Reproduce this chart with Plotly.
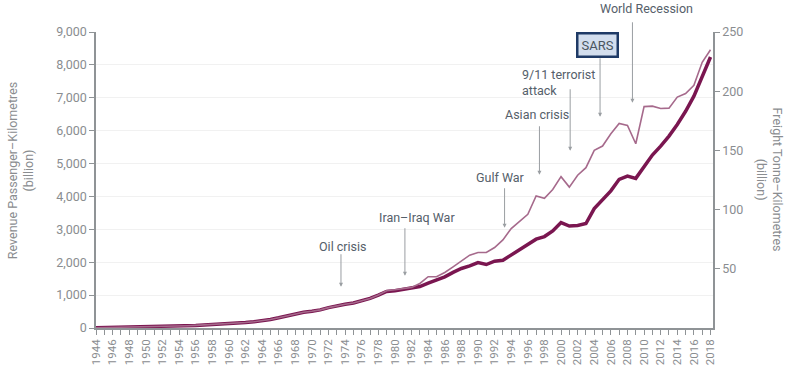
import plotly.graph_objects as go

years = list(range(1944, 2019))

rpk_billion = [
    8, 12, 18, 22, 25, 27, 30, 36, 43, 50,
    58, 67, 78, 90, 100, 115, 130, 145, 165, 190,
    220, 260, 310, 370, 430, 480, 510, 550, 620, 680,
    720, 760, 830, 900, 1000, 1110, 1130, 1170, 1200, 1260,
    1365, 1455, 1555, 1690, 1810, 1890, 1990, 1930, 2030, 2060,
    2215, 2365, 2545, 2700, 2780, 2950, 3205, 3100, 3120, 3175,
    3630, 3915, 4170, 4520, 4620, 4550, 4925, 5260, 5530, 5835,
    6190, 6590, 7050, 7655, 8240,
]

ftk_billion = [
    0.2, 0.3, 0.5, 0.6, 0.7, 0.75, 0.85, 1.0, 1.2, 1.4,
    1.65, 1.9, 2.2, 2.5, 2.8, 3.2, 3.6, 4.0, 4.6, 5.3,
    6.1, 7.2, 8.6, 10.2, 11.9, 13.3, 14.2, 15.3, 17.2, 18.9,
    20.0, 21.1, 23.0, 25.0, 27.8, 31.5, 32.3, 33.4, 34.3, 37.6,
    43.3, 43.3, 46.9, 51.7, 56.7, 61.5, 63.8, 63.8, 68.0, 74.4,
    84.0, 90.4, 96.0, 111.5, 109.6, 117.0, 127.8, 119.0, 129.0, 135.4,
    150.0, 153.7, 164.0, 172.8, 171.0, 155.6, 187.0, 187.4, 185.4, 185.7,
    195.0, 198.0, 205.0, 224.4, 235.0,
]

left_ticks = [0, 1000, 2000, 3000, 4000, 5000, 6000, 7000, 8000, 9000]
right_ticks = [50, 100, 150, 200, 250]

# events: label, arrow tip (year, RPK-scale value), arrow length px, label position (year, paper y)
events = [
    ("Oil crisis", 1973.5, 1255, 34, 1973.8, 0.275, "center"),
    ("Iran–Iraq War", 1981.2, 1590, 49, 1982.6, 0.372, "center"),
    ("Gulf War", 1993.2, 3049, 41, 1992.7, 0.507, "center"),
    ("Asian crisis", 1997.4, 4660, 50, 1997.1, 0.720, "center"),
    ("9/11 terrorist<br>attack", 2001.1, 5389, 63, 1995.0, 0.828, "left"),
    ("World Recession", 2008.6, 6848, 82, 2010.3, 1.078, "center"),
]

FONT = "Roboto, 'DejaVu Sans', sans-serif"
TICK_GRAY = "#8a8d90"
AXIS_GRAY = "#8f9396"
TEXT_GRAY = "#55606a"

fig = go.Figure()

fig.add_trace(go.Scatter(
    x=years, y=rpk_billion, mode="lines", name="RPK",
    line=dict(color="#7a1650", width=3.5), yaxis="y",
))
fig.add_trace(go.Scatter(
    x=years, y=ftk_billion, mode="lines", name="FTK",
    line=dict(color="#a66a8c", width=1.6), yaxis="y2",
))

annotations = []
for label, ax_year, ax_val, length, tx, ty, anchor in events:
    annotations.append(dict(
        x=ax_year, y=ax_val, xref="x", yref="y", text="",
        showarrow=True, ax=0, ay=-length, arrowhead=2, arrowsize=0.8,
        arrowwidth=1, arrowcolor="#9a9ea2",
    ))
    annotations.append(dict(
        x=tx, y=ty, xref="x", yref="paper", text=label, showarrow=False,
        xanchor=anchor, yanchor="middle", align="left",
        font=dict(family=FONT, size=12.5, color=TEXT_GRAY),
    ))

# SARS boxed label
annotations.append(dict(
    x=2004.7, y=6422, xref="x", yref="y", text="",
    showarrow=True, ax=0, ay=-60, arrowhead=2, arrowsize=0.8,
    arrowwidth=1, arrowcolor="#9a9ea2",
))
annotations.append(dict(
    x=2004.44, y=0.957, xref="x", yref="paper", text="SARS", showarrow=False,
    xanchor="center", yanchor="middle",
    font=dict(family=FONT, size=13, color="#4a5560"),
    bgcolor="#d3deee", bordercolor="#1f3a66", borderwidth=2.5, borderpad=3,
))

# axis titles
annotations.append(dict(
    x=-0.123, y=0.53, xref="paper", yref="paper",
    text="Revenue Passenger–Kilometres<br>(billion)", showarrow=False,
    textangle=-90, xanchor="center", yanchor="middle",
    font=dict(family=FONT, size=12.5, color=TICK_GRAY),
))
annotations.append(dict(
    x=1.093, y=0.5, xref="paper", yref="paper",
    text="Freight Tonne–Kilometres<br>(billion)", showarrow=False,
    textangle=90, xanchor="center", yanchor="middle",
    font=dict(family=FONT, size=12.5, color=TICK_GRAY),
))

fig.update_layout(
    width=800, height=368,
    margin=dict(l=96, r=87, t=32, b=40, autoexpand=False),
    paper_bgcolor="white", plot_bgcolor="white",
    showlegend=False,
    font=dict(family=FONT, color=TICK_GRAY, size=12),
    xaxis=dict(
        range=[1944, 2018.3], tickmode="array",
        tickvals=years[::2], ticktext=[str(y) for y in years[::2]],
        tickangle=-90, ticks="outside", ticklen=5, tickcolor=AXIS_GRAY,
        showline=True, linecolor=AXIS_GRAY, linewidth=1.5,
        showgrid=False, zeroline=False, automargin=False,
        tickfont=dict(family=FONT, size=11.5, color=TICK_GRAY),
        minor=dict(dtick=1, tick0=1944, ticks="outside", ticklen=5, tickcolor=AXIS_GRAY),
    ),
    yaxis=dict(
        range=[0, 9000], tickvals=left_ticks, tickformat=",",
        ticks="outside", ticklen=5, tickcolor=AXIS_GRAY,
        showline=True, linecolor=AXIS_GRAY, linewidth=1.5,
        showgrid=True, gridcolor="#f1f1f1", gridwidth=1, zeroline=False,
        automargin=False,
        tickfont=dict(family=FONT, size=12.5, color=TICK_GRAY),
    ),
    yaxis2=dict(
        range=[0, 250], tickvals=right_ticks, overlaying="y", side="right",
        ticks="outside", ticklen=5, tickcolor=AXIS_GRAY,
        showline=True, linecolor=AXIS_GRAY, linewidth=1.5,
        showgrid=False, zeroline=False, automargin=False,
        tickfont=dict(family=FONT, size=12.5, color=TICK_GRAY),
    ),
    annotations=annotations,
)

fig.write_html(
    "out.html",
    config={"displayModeBar": False},
    post_script="document.body.style.margin='0px';document.body.style.overflow='hidden';",
)
